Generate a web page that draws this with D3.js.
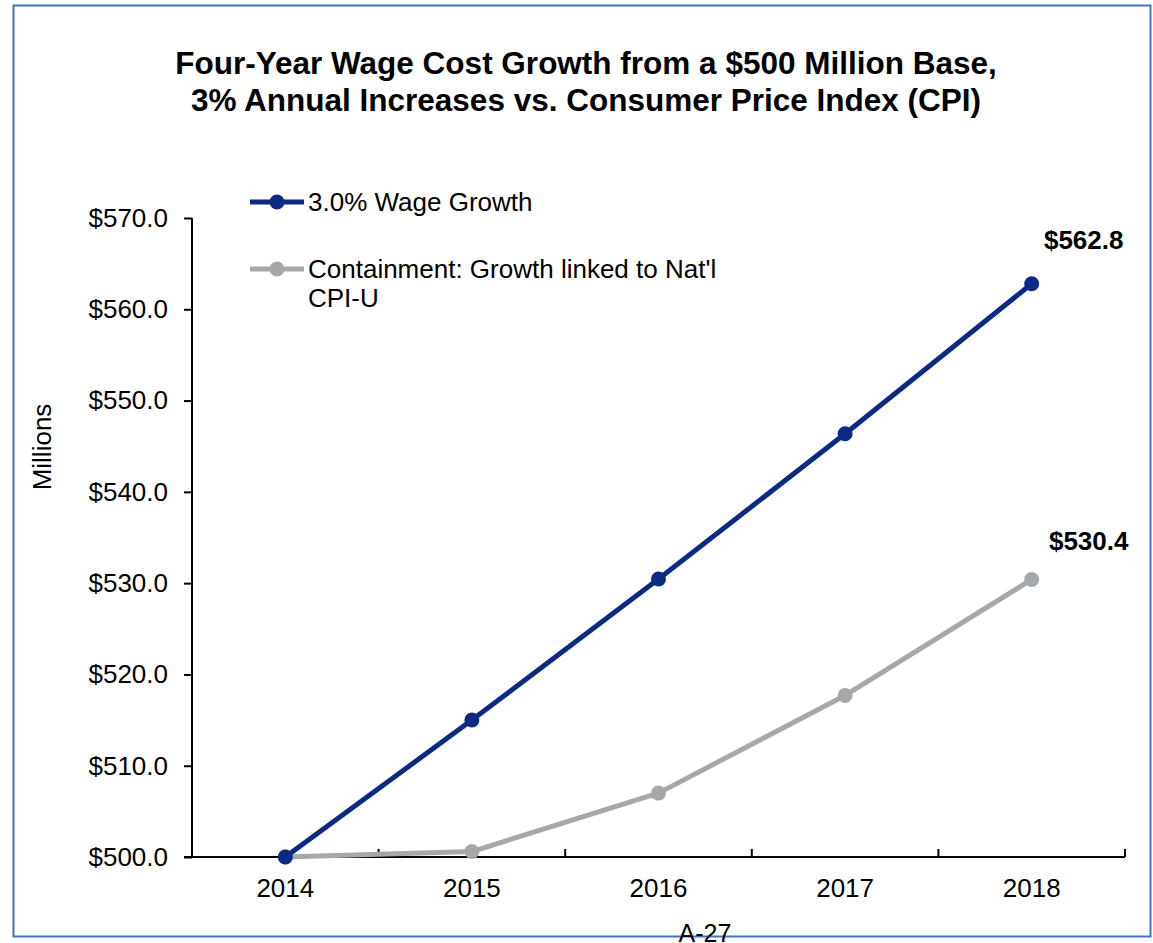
<!DOCTYPE html>
<html>
<head>
<meta charset="utf-8">
<script src="https://cdn.jsdelivr.net/npm/d3@7/dist/d3.min.js"></script>
<style>
  body { margin: 0; background: #fff; }
  svg { display: block; font-family: Arial, "Liberation Sans", sans-serif; }
</style>
</head>
<body>
<svg id="chart" width="1153" height="943"></svg>
<script>
// Chart data
const years = ["2014", "2015", "2016", "2017", "2018"];
const wageGrowth = [500.0, 515.0, 530.45, 546.36, 562.8];
const cpiGrowth = [500.0, 500.6, 507.0, 517.7, 530.4];
const yTicks = [500, 510, 520, 530, 540, 550, 560, 570];
const seriesNames = ["3.0% Wage Growth", "Containment: Growth linked to Nat'l", "CPI-U"];
const titleLines = [
  "Four-Year Wage Cost Growth from a $500 Million Base,",
  "3% Annual Increases vs. Consumer Price Index (CPI)"
];

const svg = d3.select("#chart");
const FONT = "Arial, 'Liberation Sans', sans-serif";
const navy = "#0b2a84";
const gray = "#a5a8ab";

// Outer frame
svg.append("rect")
  .attr("x", 13.5).attr("y", 5.5)
  .attr("width", 1137).attr("height", 931)
  .attr("fill", "none").attr("stroke", "#4472c4").attr("stroke-width", 2);

// Title
svg.selectAll("text.title").data(titleLines).join("text")
  .attr("class", "title")
  .attr("x", 586).attr("y", (d, i) => 74 + i * 37)
  .attr("text-anchor", "middle")
  .attr("font-size", 31.5).attr("font-weight", "bold")
  .text(d => d);

// Scales
const plot = { left: 192, right: 1125, top: 218, bottom: 857 };
const x = d3.scaleBand().domain(years).range([plot.left, plot.right]);
const y = d3.scaleLinear().domain([500, 570]).range([plot.bottom, plot.top]);
const cx = d => x(d) + x.bandwidth() / 2;

// Y axis
const yAxis = svg.append("g")
  .attr("transform", `translate(${plot.left},0)`)
  .call(d3.axisLeft(y).tickValues(yTicks).tickSize(8).tickPadding(16)
    .tickFormat(d => "$" + d3.format(".1f")(d)));
yAxis.select(".domain").attr("stroke", "#000").attr("stroke-width", 2)
  .attr("d", `M0,${plot.top}V${plot.bottom}`);
yAxis.selectAll(".tick line").attr("stroke", "#000").attr("stroke-width", 2);
yAxis.selectAll(".tick text").attr("font-size", 26).attr("fill", "#000")
  .attr("font-family", FONT);

// X axis: line with ticks between categories pointing up
const xg = svg.append("g");
xg.append("line")
  .attr("x1", plot.left - 8).attr("x2", plot.right)
  .attr("y1", plot.bottom).attr("y2", plot.bottom)
  .attr("stroke", "#000").attr("stroke-width", 2);
const boundaries = years.slice(1).map(d => x(d)).concat([plot.right]);
xg.selectAll("line.xt").data(boundaries).join("line")
  .attr("class", "xt")
  .attr("x1", d => d).attr("x2", d => d)
  .attr("y1", plot.bottom).attr("y2", plot.bottom - 8)
  .attr("stroke", "#000").attr("stroke-width", 2);
xg.selectAll("text").data(years).join("text")
  .attr("x", d => cx(d)).attr("y", 897)
  .attr("text-anchor", "middle").attr("font-size", 26)
  .text(d => d);

// Axis title
svg.append("text")
  .attr("transform", `translate(51,447) rotate(-90)`)
  .attr("text-anchor", "middle").attr("font-size", 26)
  .text("Millions");

// Lines and markers
const line = d3.line().x((d, i) => cx(years[i])).y(d => y(d));
function drawSeries(values, color) {
  svg.append("path").datum(values)
    .attr("d", line).attr("fill", "none")
    .attr("stroke", color).attr("stroke-width", 5)
    .attr("stroke-linejoin", "round");
  svg.append("g").selectAll("circle").data(values).join("circle")
    .attr("cx", (d, i) => cx(years[i])).attr("cy", d => y(d))
    .attr("r", 7.5).attr("fill", color);
}
drawSeries(cpiGrowth, gray);
drawSeries(wageGrowth, navy);

// End value labels
const endLabels = [
  { v: wageGrowth[4], dx: 52, dy: -35 },
  { v: cpiGrowth[4], dx: 57, dy: -29 }
];
svg.selectAll("text.endlab").data(endLabels).join("text")
  .attr("class", "endlab")
  .attr("x", d => cx(years[4]) + d.dx).attr("y", d => y(d.v) + d.dy)
  .attr("text-anchor", "middle").attr("font-size", 26).attr("font-weight", "bold")
  .text(d => "$" + d.v.toFixed(1));

// Legend
const legend = [
  { color: navy, y: 202, lines: [seriesNames[0]] },
  { color: gray, y: 269, lines: [seriesNames[1], seriesNames[2]] }
];
legend.forEach(e => {
  const g = svg.append("g");
  g.append("line").attr("x1", 250).attr("x2", 304).attr("y1", e.y).attr("y2", e.y)
    .attr("stroke", e.color).attr("stroke-width", 5);
  g.append("circle").attr("cx", 277).attr("cy", e.y).attr("r", 7.5).attr("fill", e.color);
  g.selectAll("text").data(e.lines).join("text")
    .attr("x", 308).attr("y", (d, i) => e.y + 9 + i * 29)
    .attr("font-size", 26).text(d => d);
});

// Page footer
svg.append("text")
  .attr("x", 705).attr("y", 942)
  .attr("text-anchor", "middle").attr("font-size", 25)
  .text("A-27");
</script>
</body>
</html>
